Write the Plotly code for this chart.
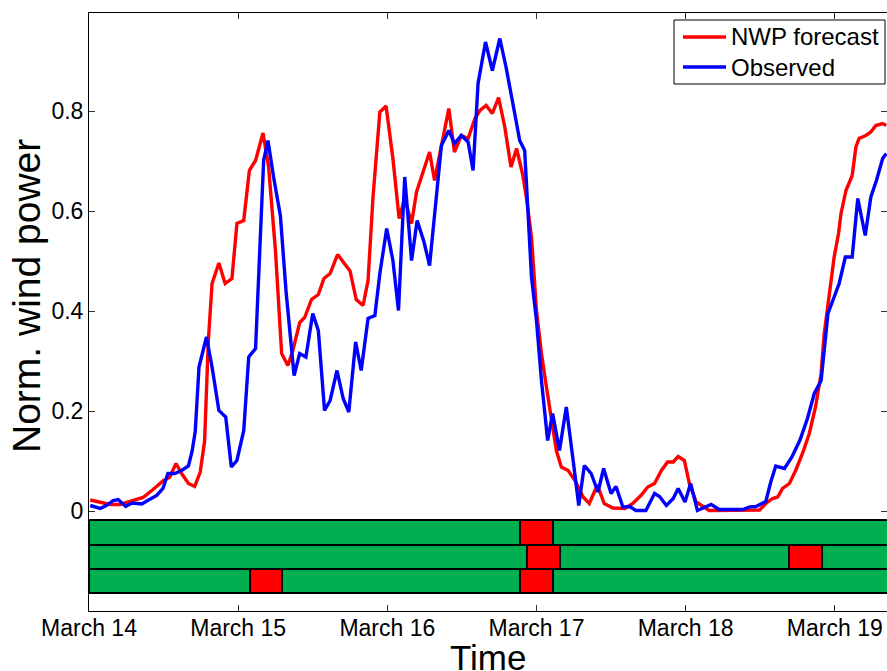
import plotly.graph_objects as go

# ---------------- data ----------------
day_ticks = [0, 24, 48, 72, 96, 120]
day_labels = ["March 14", "March 15", "March 16", "March 17", "March 18", "March 19"]
y_ticks = [0, 0.2, 0.4, 0.6, 0.8]
y_labels = ["0", "0.2", "0.4", "0.6", "0.8"]
series_names = ["NWP forecast", "Observed"]
series_colors = ["#FF0000", "#0000FF"]

nwp_hours = [0.2, 1.8, 3.4, 5.0, 6.9, 8.7, 10.3, 11.9, 13.0, 14.0, 14.9, 16.0, 17.0, 17.9,
             18.6, 19.2, 19.8, 20.9, 21.9, 23.0, 23.8, 24.9, 25.8, 26.8, 28.0, 28.9, 30.0,
             31.0, 32.0, 32.8, 33.9, 34.7, 35.8, 36.9, 37.8, 38.8, 40.0, 42.0, 43.0, 44.1,
             44.9, 45.7, 46.8, 47.8, 48.9, 49.9, 50.8, 51.9, 52.7, 53.7, 54.8, 55.6, 56.7,
             57.9, 58.8, 59.9, 61.0, 62.1, 62.9, 63.9, 64.9, 65.9, 66.9, 67.9, 68.8, 69.8,
             70.4, 71.2, 72.0, 72.8, 73.6, 74.4, 75.2, 76.0, 77.1, 78.2, 79.5, 80.5, 81.8,
             82.9, 84.3, 86.2, 87.5, 88.8, 89.9, 91.0, 92.1, 93.1, 94.0, 94.8, 95.8, 96.6,
             97.7, 99.8, 107.9, 108.9, 110.0, 110.8, 111.6, 112.7, 113.7, 114.8, 115.9,
             116.9, 117.8, 118.3, 119.1, 119.9, 120.6, 121.0, 121.8, 122.8, 123.4, 123.9,
             125.0, 125.8, 126.6, 127.7, 128.3]
nwp_power = [0.022, 0.018, 0.013, 0.013, 0.020, 0.027, 0.043, 0.060, 0.068, 0.095, 0.075, 0.055,
             0.049, 0.078, 0.140, 0.340, 0.455, 0.496, 0.455, 0.465, 0.575, 0.581, 0.681, 0.701,
             0.756, 0.688, 0.521, 0.315, 0.291, 0.321, 0.377, 0.387, 0.423, 0.433, 0.465, 0.475,
             0.513, 0.480, 0.423, 0.411, 0.461, 0.628, 0.798, 0.810, 0.705, 0.585, 0.625, 0.575,
             0.638, 0.675, 0.718, 0.661, 0.728, 0.805, 0.718, 0.751, 0.745, 0.785, 0.801, 0.811,
             0.795, 0.827, 0.768, 0.688, 0.725, 0.672, 0.625, 0.548, 0.401, 0.315, 0.248, 0.181,
             0.121, 0.088, 0.081, 0.061, 0.028, 0.015, 0.052, 0.015, 0.006, 0.005, 0.015, 0.031,
             0.048, 0.055, 0.081, 0.098, 0.098, 0.109, 0.101, 0.055, 0.018, 0.001, 0.002, 0.015,
             0.025, 0.028, 0.045, 0.055, 0.081, 0.115, 0.155, 0.208, 0.275, 0.355, 0.435, 0.508,
             0.555, 0.595, 0.641, 0.671, 0.728, 0.745, 0.751, 0.758, 0.771, 0.775, 0.771]

obs_hours = [0.2, 1.8, 2.8, 3.9, 4.7, 5.9, 6.9, 8.5, 9.3, 10.9, 11.9, 12.7, 13.8, 14.9, 16.0,
             16.6, 17.1, 17.7, 18.9, 19.8, 20.9, 22.0, 22.9, 23.8, 24.9, 25.7, 26.8, 27.6,
             28.1, 28.8, 29.7, 30.8, 31.7, 33.0, 33.9, 34.9, 36.0, 36.9, 37.9, 38.8, 39.9,
             40.9, 41.8, 42.9, 43.8, 44.9, 46.0, 46.8, 47.9, 48.9, 49.8, 50.8, 51.9, 52.8,
             53.9, 54.8, 55.8, 56.7, 57.9, 58.8, 59.9, 61.0, 61.8, 62.6, 63.8, 64.9, 66.1,
             67.1, 68.2, 69.3, 70.1, 70.6, 71.2, 72.0, 72.8, 73.8, 74.6, 75.7, 76.8, 77.9,
             78.8, 79.7, 80.8, 81.9, 82.8, 84.0, 84.8, 85.9, 87.0, 88.0, 89.6, 91.0, 91.8,
             92.9, 94.0, 94.8, 95.9, 96.8, 97.9, 99.0, 100.1, 101.4, 105.2, 106.3, 107.3,
             108.9, 109.7, 110.5, 111.9, 113.1, 114.4, 115.6, 116.7, 117.8, 118.3, 118.9,
             119.9, 120.7, 121.7, 122.8, 123.7, 124.9, 125.8, 126.7, 127.7, 128.3]
obs_power = [0.011, 0.005, 0.011, 0.021, 0.023, 0.009, 0.016, 0.014, 0.020, 0.031, 0.045, 0.075,
             0.075, 0.081, 0.090, 0.120, 0.160, 0.288, 0.348, 0.288, 0.201, 0.188, 0.088, 0.101,
             0.161, 0.308, 0.325, 0.555, 0.701, 0.741, 0.668, 0.590, 0.440, 0.271, 0.315, 0.308,
             0.395, 0.361, 0.201, 0.221, 0.281, 0.225, 0.198, 0.338, 0.281, 0.385, 0.391, 0.475,
             0.565, 0.501, 0.401, 0.668, 0.501, 0.581, 0.538, 0.491, 0.621, 0.731, 0.761, 0.735,
             0.751, 0.738, 0.681, 0.855, 0.938, 0.881, 0.945, 0.888, 0.815, 0.741, 0.721, 0.595,
             0.468, 0.381, 0.261, 0.141, 0.195, 0.121, 0.208, 0.101, 0.011, 0.091, 0.075, 0.038,
             0.085, 0.035, 0.049, 0.008, 0.009, 0.001, 0.001, 0.035, 0.029, 0.011, 0.025, 0.045,
             0.018, 0.055, 0.001, 0.007, 0.013, 0.003, 0.003, 0.008, 0.009, 0.019, 0.058, 0.090,
             0.085, 0.108, 0.142, 0.185, 0.235, 0.261, 0.328, 0.395, 0.428, 0.455, 0.508, 0.508,
             0.625, 0.551, 0.628, 0.661, 0.705, 0.715]

# status rows: flagged (red) intervals in hours, per row
row_centers = [-0.043, -0.0915, -0.1405]
row_flags = [
    [(69.3, 74.6)],
    [(70.5, 75.8), (112.7, 117.9)],
    [(25.9, 31.1), (69.3, 74.6)],
]
row_end = 135.0

# ---------------- figure ----------------
FONT = "Arial, Liberation Sans, sans-serif"
GREEN = "#00B050"
RED_BLOCK = "#FF0000"

fig = go.Figure()

for center, flags in zip(row_centers, row_flags):
    starts, lengths, colors = [], [], []
    pos = 0.0
    for a, b in flags:
        starts.append(pos); lengths.append(a - pos); colors.append(GREEN)
        starts.append(a); lengths.append(b - a); colors.append(RED_BLOCK)
        pos = b
    starts.append(pos); lengths.append(row_end - pos); colors.append(GREEN)
    fig.add_trace(go.Bar(
        orientation="h", base=starts, x=lengths, y=[center] * len(starts),
        width=[0.0485] * len(starts),
        marker=dict(color=colors, line=dict(color="black", width=2)),
        showlegend=False, hoverinfo="skip"))

for name, color, xs, ys in zip(series_names, series_colors,
                               [nwp_hours, obs_hours], [nwp_power, obs_power]):
    fig.add_trace(go.Scatter(x=xs, y=ys, mode="lines", name=name, showlegend=False,
                             line=dict(color=color, width=3.4)))
fig.add_trace(go.Scatter(x=[None], y=[None], yaxis="y2", showlegend=False, hoverinfo="skip"))

W, H = 887, 671
L, R, T, B = 89, 0, 13, 60
ph = H - T - B
pw = W - L - R


def px_x(x):
    return (x - L) / pw


def px_y(y):
    return (H - B - y) / ph


# legend (box, line samples, labels) in pixel-derived paper coordinates
shapes = [dict(type="rect", xref="paper", yref="paper",
               x0=px_x(674), x1=px_x(885), y0=px_y(84), y1=px_y(20),
               fillcolor="white", line=dict(color="black", width=1), layer="above")]
annotations = []
for i, (name, color) in enumerate(zip(series_names, series_colors)):
    yc = 37 + 30 * i
    shapes.append(dict(type="line", xref="paper", yref="paper",
                       x0=px_x(683), x1=px_x(726), y0=px_y(yc), y1=px_y(yc),
                       line=dict(color=color, width=3.4), layer="above"))
    annotations.append(dict(text=name, xref="paper", yref="paper", x=px_x(729), y=px_y(yc),
                            xanchor="left", yanchor="middle", showarrow=False,
                            font=dict(size=24, family=FONT, color="black")))

annotations += [
    dict(text="Time", xref="paper", yref="paper", x=0.5, y=-46 / ph,
         xanchor="center", yanchor="middle", showarrow=False,
         font=dict(size=35, family=FONT)),
    dict(text="Norm. wind power", xref="paper", yref="paper", x=-63 / pw,
         y=(611 - 296) / ph, xanchor="center", yanchor="middle", textangle=-90,
         showarrow=False, font=dict(size=39, family=FONT)),
]

fig.update_layout(
    width=W, height=H, autosize=False,
    margin=dict(l=L, r=R, t=T, b=B, pad=0),
    paper_bgcolor="white", plot_bgcolor="white",
    barmode="overlay", bargap=0,
    font=dict(family=FONT, size=23, color="black"),
    xaxis=dict(range=[0, 128.4], tickvals=day_ticks, ticktext=day_labels,
               ticks="inside", ticklen=6, tickwidth=1, tickcolor="#333333",
               showline=True, linecolor="black", linewidth=1, mirror="ticks",
               showgrid=False, zeroline=False, ticklabelstandoff=-4,
               tickfont=dict(size=23, family=FONT)),
    yaxis=dict(range=[-0.2, 0.996], tickvals=y_ticks, ticktext=y_labels,
               ticks="inside", ticklen=6, tickwidth=1, tickcolor="#333333",
               showline=True, linecolor="black", linewidth=1, mirror=False,
               showgrid=False, zeroline=False, tickfont=dict(size=23, family=FONT)),
    yaxis2=dict(range=[-0.2, 0.996], overlaying="y", side="right", matches="y",
                tickvals=y_ticks, showticklabels=False, ticks="inside", ticklen=6,
                tickcolor="#333333", showline=False, showgrid=False, zeroline=False),
    showlegend=False,
    shapes=shapes,
    annotations=annotations,
)

fig.write_html("out.html")
